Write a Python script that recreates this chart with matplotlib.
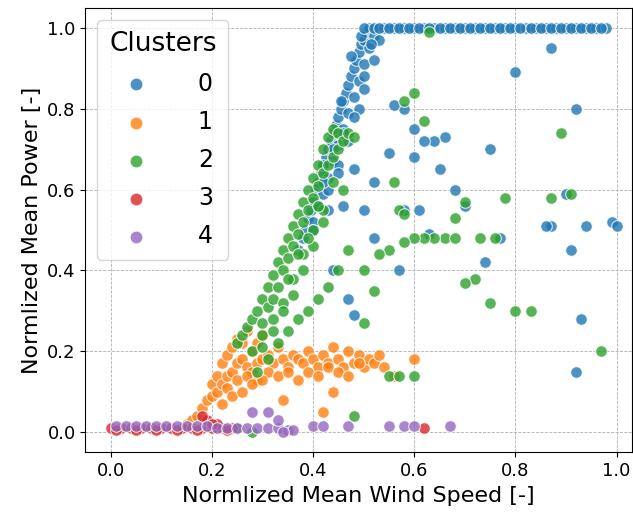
import matplotlib
matplotlib.use("Agg")
import matplotlib.pyplot as plt

c0_x = [0.37,0.38,0.385,0.39,0.395,0.40,0.405,0.41,0.415,0.42,0.425,0.43,0.435,0.44,0.445,0.45,0.455,0.46,0.465,0.47,0.475,0.48,0.485,0.49,0.495,0.50,0.505,0.51,0.40,0.41,0.42,0.43,0.44,0.45,0.46,0.47,0.48,0.49,0.50,0.51,0.52,0.43,0.45,0.47,0.49,0.50,0.52,0.53,
        0.44,0.46,0.48,0.50,0.42,0.455,0.475,0.495,0.515,
        0.50,0.52,0.54,0.56,0.58,0.60,0.62,0.64,0.66,0.68,0.70,0.72,0.74,0.76,0.78,0.80,0.82,0.84,0.86,0.88,0.90,0.92,0.94,0.96,0.98,0.53,0.55,0.57,0.59,0.61,0.63,0.65,0.67,0.69,0.71,0.73,0.75,0.77,0.79,0.81,0.83,0.85,0.87,0.89,0.91,0.93,0.95,0.97,
        0.80,0.87,0.92,0.90,0.91,0.93,0.92,0.99,1.00,0.94,0.87,0.86,0.75,0.77,0.74,0.68,0.66,0.64,0.62,0.61,0.60,0.58,0.56,0.55,0.52,0.48,0.45,0.43,0.46,0.40,0.42,0.50,0.52,0.57,0.47,0.48,0.44,0.60,0.65,0.70,0.63,0.58]
c0_y = [0.45,0.48,0.50,0.53,0.55,0.57,0.60,0.62,0.64,0.66,0.68,0.70,0.72,0.74,0.76,0.78,0.80,0.82,0.84,0.86,0.88,0.90,0.92,0.94,0.96,0.97,0.99,1.00,0.52,0.56,0.59,0.63,0.67,0.71,0.75,0.79,0.83,0.87,0.91,0.95,0.98,0.60,0.66,0.72,0.80,0.85,0.92,0.97,
        0.70,0.74,0.78,0.88,0.62,0.82,0.93,0.98,0.96,
        1.00,1.00,1.00,1.00,1.00,1.00,1.00,1.00,1.00,1.00,1.00,1.00,1.00,1.00,1.00,1.00,1.00,1.00,1.00,1.00,1.00,1.00,1.00,1.00,1.00,1.00,1.00,1.00,1.00,1.00,1.00,1.00,1.00,1.00,1.00,1.00,1.00,1.00,1.00,1.00,1.00,1.00,1.00,1.00,1.00,1.00,1.00,1.00,
        0.89,0.95,0.80,0.59,0.45,0.28,0.15,0.52,0.51,0.51,0.51,0.51,0.70,0.48,0.42,0.60,0.73,0.72,0.72,0.55,0.68,0.80,0.81,0.69,0.62,0.65,0.64,0.55,0.56,0.50,0.66,0.55,0.48,0.40,0.33,0.29,0.40,0.75,0.65,0.56,0.49,0.55]

c1_x = [0.15,0.16,0.17,0.18,0.19,0.20,0.20,0.21,0.21,0.22,0.22,0.23,0.23,0.24,0.24,0.25,0.25,0.26,0.26,0.27,0.27,0.28,0.28,0.29,0.29,0.30,0.30,0.31,0.32,0.33,0.34,0.35,0.36,0.37,0.38,0.39,0.40,0.41,0.42,0.43,0.44,0.45,0.46,0.47,0.48,0.49,0.50,0.51,0.52,0.53,0.54,0.23,0.25,0.27,0.29,0.31,0.33,0.35,0.37,0.39,0.41,0.43,0.45,0.47,0.49,0.42,0.44,0.56,0.60,0.34,0.22,0.24,0.26,0.28,0.30]
c1_y = [0.02,0.03,0.04,0.06,0.08,0.09,0.12,0.10,0.14,0.12,0.17,0.14,0.19,0.15,0.21,0.17,0.23,0.18,0.22,0.16,0.25,0.20,0.15,0.22,0.17,0.24,0.18,0.19,0.17,0.21,0.18,0.16,0.19,0.18,0.17,0.20,0.18,0.16,0.19,0.17,0.21,0.18,0.16,0.20,0.17,0.19,0.16,0.18,0.17,0.19,0.16,0.11,0.13,0.14,0.13,0.15,0.14,0.15,0.13,0.15,0.14,0.16,0.15,0.14,0.17,0.05,0.10,0.14,0.18,0.08,0.07,0.09,0.10,0.12,0.13]

c2_x = [0.25,0.26,0.27,0.28,0.29,0.30,0.30,0.31,0.31,0.32,0.32,0.33,0.33,0.34,0.34,0.35,0.35,0.36,0.36,0.37,0.37,0.38,0.38,0.39,0.39,0.40,0.40,0.41,0.41,0.42,0.42,0.43,0.43,0.44,0.44,0.45,0.45,0.46,0.47,0.48,0.29,0.31,0.33,0.35,0.37,0.39,0.41,0.43,0.45,0.47,
        0.28,0.30,0.32,0.34,0.36,0.38,0.40,0.42,0.44,0.30,0.32,0.34,0.36,0.38,0.40,0.42,0.35,0.37,0.39,0.41,0.46,
        0.60,0.58,0.62,0.89,0.87,0.91,0.97,0.80,0.83,0.75,0.72,0.70,0.66,0.64,0.62,0.60,0.58,0.68,0.73,0.76,0.78,0.70,0.68,0.56,0.55,0.53,0.52,0.57,0.63,0.58,0.50,0.55,0.57,0.60,0.48,0.28,0.25,0.50]
c2_y = [0.22,0.24,0.26,0.28,0.30,0.27,0.33,0.31,0.36,0.33,0.39,0.36,0.42,0.40,0.45,0.43,0.48,0.46,0.51,0.49,0.54,0.52,0.57,0.55,0.60,0.58,0.63,0.61,0.66,0.64,0.70,0.66,0.73,0.68,0.75,0.70,0.74,0.72,0.74,0.73,0.15,0.18,0.22,0.25,0.28,0.30,0.33,0.36,0.40,0.45,
        0.20,0.24,0.28,0.32,0.38,0.44,0.50,0.55,0.62,0.21,0.25,0.30,0.34,0.40,0.46,0.52,0.38,0.44,0.48,0.56,0.60,
        0.84,0.82,0.77,0.74,0.58,0.59,0.20,0.30,0.30,0.32,0.38,0.37,0.48,0.48,0.48,0.48,0.47,0.48,0.48,0.48,0.58,0.57,0.53,0.62,0.45,0.44,0.35,0.55,0.99,0.54,0.40,0.14,0.14,0.14,0.04,0.00,0.01,0.27]

c3_x = [0.00,0.02,0.04,0.06,0.08,0.10,0.12,0.14,0.16,0.18,0.20,0.22,0.24,0.01,0.05,0.09,0.13,0.17,0.21,0.19,0.23,0.62,0.18,0.20]
c3_y = [0.01,0.01,0.01,0.01,0.01,0.01,0.01,0.01,0.01,0.01,0.01,0.01,0.01,0.005,0.005,0.005,0.005,0.005,0.02,0.03,0.005,0.01,0.04,0.02]

c4_x = [0.01,0.03,0.05,0.07,0.09,0.11,0.13,0.15,0.17,0.19,0.21,0.23,0.25,0.27,0.29,0.31,0.33,0.35,0.36,0.40,0.42,0.47,0.55,0.58,0.60,0.67,0.31,0.33,0.28,0.34]
c4_y = [0.015,0.015,0.015,0.015,0.015,0.015,0.015,0.015,0.015,0.015,0.01,0.01,0.01,0.01,0.01,0.01,0.01,0.005,0.005,0.015,0.015,0.015,0.015,0.015,0.015,0.015,0.05,0.03,0.05,0.0]

colors = ['#1f77b4', '#ff7f0e', '#2ca02c', '#d62728', '#9467bd']
data = [(c0_x, c0_y), (c1_x, c1_y), (c2_x, c2_y), (c3_x, c3_y), (c4_x, c4_y)]

fig, ax = plt.subplots(figsize=(6.33, 5.17), dpi=100)
for i, (xs, ys) in enumerate(data):
    ax.scatter(xs, ys, s=70, c=colors[i], alpha=0.8, edgecolors='white', linewidths=0.8, label=str(i), zorder=3)
ax.set_xlim(-0.05, 1.03)
ax.set_ylim(-0.05, 1.05)
ax.grid(True, linestyle='--', linewidth=0.6, color='#b0b0b0', zorder=0)
ax.set_xlabel('Normlized Mean Wind Speed [-]', fontsize=16)
ax.set_ylabel('Normlized Mean Power [-]', fontsize=16)
ax.tick_params(labelsize=13)
leg = ax.legend(title='Clusters', fontsize=17, title_fontsize=19, markerscale=1.1, loc='upper left',
                labelspacing=0.6, handletextpad=1.6, borderpad=0.5)
for t in leg.get_texts():
    t.set_x(0)
plt.subplots_adjust(left=0.135, right=0.998, top=0.985, bottom=0.125)
fig.savefig('out.png', dpi=100)
